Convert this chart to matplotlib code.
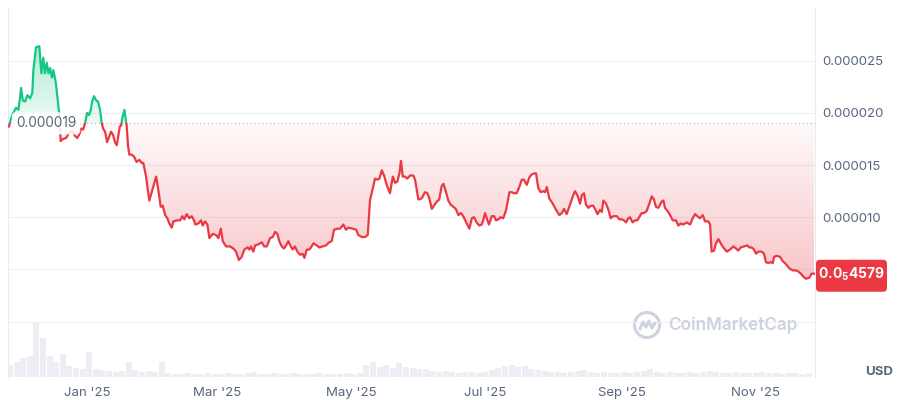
import numpy as np
import matplotlib
matplotlib.use("Agg")
import matplotlib.pyplot as plt
import matplotlib.transforms as mtransforms
from matplotlib.path import Path
from matplotlib.patches import Rectangle, FancyBboxPatch, Circle
from matplotlib.lines import Line2D
import pandas as pd

# ---------------- data ----------------
base_date = pd.Timestamp("2025-01-01")
# days relative to 2025-01-01
day = [-35.5, -34.5, -33.5, -32.3, -31.2, -30.5, -30.0, -29.2, -28.2, -27.1, -25.9, -24.9, -24.4, -23.2,
       -21.7, -20.8, -19.9, -19.2, -18.3, -17.6, -16.8, -16.0, -15.3, -14.2, -13.5, -12.7, -12.0, -10.9,
       -9.5, -8.2, -6.8, -5.5, -4.5, -3.6, -2.7, -1.8, -0.9, 0.0, 0.9, 1.7, 2.3, 3.2, 4.1, 5.0, 5.9, 6.7,
       7.3, 8.2, 9.1, 10.0, 10.9, 11.8, 12.7, 13.5, 14.1, 14.9, 15.5, 16.0, 17.0, 17.6, 18.0, 18.6, 19.2,
       20.3, 21.4, 22.5, 23.8, 24.9, 25.6, 26.8, 28.3, 29.4, 31.4, 32.4, 33.5, 34.4, 35.5, 36.5, 37.4,
       38.5, 39.2, 40.8, 42.3, 43.3, 44.2, 45.3, 46.5, 47.6, 48.6, 49.2, 50.6, 51.8, 52.6, 53.6, 54.7,
       55.6, 57.1, 58.6, 59.7, 60.8, 61.7, 63.2, 65.0, 66.5, 67.7, 69.0, 70.3, 71.5, 72.9, 73.8, 74.5,
       75.6, 76.4, 77.9, 79.4, 80.5, 81.7, 83.2, 84.4, 85.5, 86.5, 87.4, 88.5, 89.5, 90.5, 91.5, 92.6,
       93.5, 94.5, 95.6, 96.8, 98.0, 98.8, 99.9, 101.0, 101.8, 102.9, 104.4, 105.6, 107.1, 108.6, 110.1,
       111.2, 112.3, 113.8, 115.0, 116.5, 117.7, 118.8, 120.8, 122.3, 123.3, 124.9, 126.4, 127.6, 128.6,
       129.9, 130.9, 132.0, 132.9, 134.0, 135.0, 136.2, 137.7, 139.0, 140.0, 141.0, 142.0, 142.7, 143.5,
       144.5, 145.6, 146.8, 148.3, 149.1, 150.6, 152.1, 153.6, 154.7, 155.6, 156.7, 157.7, 159.0, 160.1,
       161.2, 162.0, 163.2, 164.2, 165.3, 166.5, 167.6, 168.8, 169.9, 171.0, 172.6, 173.8, 174.9, 175.9,
       177.1, 178.3, 179.4, 180.1, 180.9, 182.0, 182.7, 184.0, 185.0, 185.9, 187.0, 188.0, 189.2, 190.5,
       192.0, 193.0, 194.1, 195.3, 196.5, 197.6, 198.6, 199.9, 201.0, 202.1, 203.2, 204.1, 205.1, 206.2,
       207.4, 208.2, 209.0, 210.1, 211.7, 213.2, 214.7, 215.8, 216.8, 218.0, 219.2, 220.8, 221.8, 222.9,
       224.1, 224.9, 225.9, 226.8, 227.9, 229.0, 230.1, 230.9, 232.0, 233.2, 234.0, 234.7, 235.9, 237.0,
       238.0, 239.2, 240.8, 242.0, 243.0, 244.1, 245.0, 246.0, 246.8, 248.0, 249.1, 250.1, 251.0, 252.1,
       253.2, 254.4, 255.6, 256.7, 257.7, 258.6, 259.7, 261.2, 262.0, 262.7, 264.2, 265.3, 266.2, 267.7,
       268.8, 269.9, 271.0, 272.6, 274.1, 275.3, 276.4, 277.4, 278.6, 279.9, 280.9, 282.4, 283.2, 283.9,
       285.0, 285.9, 287.0, 288.0, 289.2, 290.8, 292.3, 293.8, 295.0, 296.0, 297.1, 298.6, 300.1, 301.0,
       302.1, 303.2, 304.1, 305.1, 306.7, 307.7, 308.6, 309.7, 310.8, 311.7, 312.3, 313.5, 315.0, 316.2,
       317.7, 319.2, 320.8, 322.3, 323.3, 324.4, 325.6, 326.8, 328.3, 329.4, 330.5]
# price in units of 1e-6 USD
price_micro = [18.7, 19.5, 20.0, 20.5, 20.3, 21.4, 22.4, 21.2, 21.1, 21.7, 21.4, 21.9, 24.1, 26.3,
               26.4, 23.8, 25.3, 23.8, 24.8, 23.8, 24.3, 23.4, 24.1, 22.9, 21.5, 20.0, 17.3, 17.5,
               17.6, 18.1, 18.3, 17.8, 17.6, 17.9, 18.5, 18.4, 19.0, 20.0, 19.8, 20.3, 21.1, 21.6, 21.2, 21.1, 20.3, 19.0,
               18.5, 18.2, 17.2, 17.7, 18.2, 17.9, 17.2, 16.9, 17.7, 18.7, 18.8, 19.5, 20.3, 19.3, 18.8, 16.9, 16.0,
               16.0, 15.8, 15.3, 15.5, 15.2, 15.2, 13.9, 11.6, 12.4, 13.9, 12.6, 11.0, 11.1, 10.2, 9.9, 9.4,
               9.0, 9.6, 9.7, 9.7, 10.1, 9.8, 10.3, 9.9, 10.1, 9.7, 9.3, 9.4, 9.7, 9.2, 9.6, 9.3,
               8.0, 8.4, 8.3, 8.0, 8.9, 7.7, 7.2, 7.2, 7.0, 6.7, 5.9, 6.2, 6.9, 7.1, 6.9, 7.2,
               6.7, 7.3, 7.4, 7.6, 7.2, 7.2, 8.0, 8.1, 8.6, 8.4, 7.7, 7.2, 7.0, 7.3, 7.7, 7.2,
               6.9, 7.2, 6.7, 6.4, 6.5, 6.1, 6.9, 6.9, 7.1, 7.5, 7.3, 7.1, 7.2, 7.3, 7.6,
               7.7, 8.8, 8.9, 8.9, 9.3, 8.8, 9.0, 8.9, 8.8, 8.3, 8.1, 8.1, 8.3, 11.6,
               12.8, 13.7, 13.6, 13.7, 14.5, 14.0, 13.1, 12.3, 13.9, 13.3, 13.4, 14.2, 15.4, 13.9,
               13.9, 13.7, 14.0, 14.0, 13.6, 11.7, 11.8, 12.4, 12.3, 11.8, 10.8, 11.1, 11.5, 11.7,
               13.0, 13.2, 12.4, 11.6, 11.2, 11.0, 10.8, 10.2, 10.4, 10.1, 9.4, 8.9, 9.9, 10.0,
               9.5, 9.2, 9.3, 9.7, 10.4, 9.7, 9.3, 10.1, 10.1, 9.7, 9.8, 10.0, 9.9, 10.7,
               12.4, 12.4, 12.3, 12.3, 12.9, 13.6, 13.6, 13.1, 13.8, 14.1, 14.2, 14.2, 12.8, 12.4,
               12.5, 12.4, 12.9, 11.8, 11.3, 10.7, 10.2, 10.4, 10.8, 10.3, 11.0, 12.0, 12.5, 12.1,
               11.3, 12.1, 12.3, 11.2, 10.9, 11.1, 11.1, 10.8, 10.3, 10.7, 10.5, 11.6, 11.3, 10.7,
               9.9, 10.1, 10.1, 9.8, 9.8, 9.7, 9.5, 9.9, 10.0, 9.5, 9.7, 9.7, 10.0, 10.4,
               10.4, 10.6, 11.3, 12.0, 11.7, 11.0, 10.9, 11.5, 11.6, 10.9, 10.5, 10.1, 9.7, 9.7,
               9.2, 9.4, 9.3, 9.5, 9.3, 9.9, 10.3, 10.1, 9.9, 10.2, 9.6, 9.6, 9.3, 6.7,
               6.8, 7.5, 7.9, 7.5, 7.1, 6.7, 6.9, 7.2, 7.0, 6.8, 7.1, 7.2, 7.3, 7.1,
               7.1, 6.9, 6.5, 6.7, 6.7, 6.5, 5.7, 5.6, 5.7, 5.6, 6.2, 6.3, 6.2, 5.8,
               5.5, 5.1, 4.9, 4.9, 4.8, 4.6, 4.3, 4.1, 4.2, 4.6, 4.579]
baseline_price = 0.000019
baseline_label = "0.000019"
last_price_label = r"$\mathbf{0.0_{5}4579}$"

# volume (relative units), 3-day buckets starting at day -35
vol_first_day = -35
vol_step_days = 3
volume = [12, 14, 18, 20, 52, 38, 20, 14, 22, 11, 9, 8, 24, 8, 7, 6, 5, 6, 14, 7, 5, 6, 5, 14, 4,
          3, 3, 4, 3, 3, 4, 3, 3, 4, 3, 3, 4, 5, 3, 3, 4, 3, 3, 4, 3, 3, 3, 4, 3, 3, 3, 4, 3, 4,
          12, 14, 10, 12, 9, 13, 10, 9, 8, 8, 6, 5, 6, 5, 4, 5, 5, 4, 5, 7, 9, 11, 12, 10, 11, 8,
          7, 6, 5, 5, 4, 5, 6, 7, 5, 4, 5, 4, 4, 5, 4, 5, 6, 8, 5, 4, 5, 4, 4, 5, 4, 5, 6, 5, 4,
          4, 5, 4, 4, 4, 5, 4, 4, 3, 4, 4, 3, 4]

tick_dates = ["2025-01-01", "2025-03-01", "2025-05-01", "2025-07-01", "2025-09-01", "2025-11-01"]
tick_labels = ["Jan '25", "Mar '25", "May '25", "Jul '25", "Sep '25", "Nov '25"]
ytick_values = [0.000010, 0.000015, 0.000020, 0.000025]
ytick_labels = ["0.000010", "0.000015", "0.000020", "0.000025"]
grid_values = [0.0, 0.000005, 0.000010, 0.000015, 0.000020, 0.000025]

# ---------------- style ----------------
plt.rcParams["font.family"] = ["Inter", "DejaVu Sans"]
plt.rcParams["mathtext.fontset"] = "custom"
plt.rcParams["mathtext.rm"] = "Inter"
plt.rcParams["mathtext.bf"] = "Inter:bold"

RED = "#ea3943"
GREEN = "#16c784"
TXT = "#58667e"
GRID = "#eff2f5"

W, H = 900, 400
fig = plt.figure(figsize=(W / 100, H / 100), dpi=100)
ax_left, ax_right, ax_top, ax_bot = 8.3, 815, 8, 377
rect = [ax_left / W, 1 - ax_bot / H, (ax_right - ax_left) / W, (ax_bot - ax_top) / H]
axv = fig.add_axes(rect, zorder=0)
ax = fig.add_axes(rect, zorder=1)
ax.patch.set_visible(False)

x = np.array(day)
y = np.array(price_micro) * 1e-6
xmin, xmax = -35.8, 330.9
ax.set_xlim(xmin, xmax)
ax.set_ylim(-5.32e-6, 30.06e-6)
axv.set_xlim(xmin, xmax)

# volume bars
vx = vol_first_day + vol_step_days * np.arange(len(volume))
axv.bar(vx, volume, width=vol_step_days * 0.9, color="#eceef3", edgecolor="none", align="center")
axv.set_ylim(0, 355)
axv.axis("off")

# grid
for g in grid_values:
    ax.axhline(g, color=GRID, lw=0.9, zorder=0)

# gradient fills clipped to the area between line and baseline
def gradient_fill(mask_where, color, y_lo, y_hi, a_lo, a_hi):
    fb = ax.fill_between(x, y, baseline_price, where=mask_where, interpolate=True,
                         facecolor="none", edgecolor="none")
    paths = fb.get_paths()
    if not paths:
        return
    cp = Path.make_compound_path(*paths)
    rgb = matplotlib.colors.to_rgb(color)
    n = 256
    img = np.zeros((n, 1, 4))
    img[:, 0, 0:3] = rgb
    img[:, 0, 3] = np.linspace(a_lo, a_hi, n)
    im = ax.imshow(img, extent=[xmin, xmax, y_lo, y_hi], origin="lower",
                   aspect="auto", zorder=1, interpolation="bilinear")
    im.set_clip_path(cp, ax.transData)

gradient_fill(y <= baseline_price, RED, 3.5e-6, baseline_price, 0.30, 0.03)
gradient_fill(y >= baseline_price, GREEN, baseline_price, 26.5e-6, 0.08, 0.34)

# the price line, green above and red below the baseline
lg, = ax.plot(x, y, color=GREEN, lw=1.6, zorder=3, solid_joinstyle="round")
lg.set_clip_path(Rectangle((xmin, baseline_price), xmax - xmin, 1.0, transform=ax.transData))
lr, = ax.plot(x, y, color=RED, lw=1.6, zorder=3, solid_joinstyle="round")
lr.set_clip_path(Rectangle((xmin, -1.0), xmax - xmin, 1.0 + baseline_price, transform=ax.transData))

# baseline dotted line
ax.plot([x[0], xmax], [baseline_price, baseline_price], color="#a6b0c3", lw=0.8,
        ls=(0, (1, 2.5)), zorder=2)
label_tr = ax.transData + mtransforms.ScaledTranslation(7 / 100, 0, fig.dpi_scale_trans)
ax.text(x[0], baseline_price, baseline_label, transform=label_tr,
        va="center", ha="left", fontsize=9.8, color=TXT, zorder=5,
        bbox=dict(boxstyle="round,pad=0.3,rounding_size=0.3", facecolor="white",
                  edgecolor="none", alpha=0.88))

# axes decoration
for s in ["top", "bottom"]:
    ax.spines[s].set_visible(False)
for s in ["left", "right"]:
    ax.spines[s].set_color("#e8ebf0")
    ax.spines[s].set_linewidth(0.8)
ax.yaxis.tick_right()
ax.set_yticks(ytick_values, ytick_labels)
ax.tick_params(axis="y", length=0, pad=5.3, labelsize=9.5, labelcolor=TXT)
tick_days = [(pd.Timestamp(d) - base_date).days for d in tick_dates]
ax.set_xticks(tick_days, tick_labels)
ax.tick_params(axis="x", length=0, pad=7, labelsize=9.5, labelcolor=TXT)

# last price box
ident = mtransforms.IdentityTransform()
x_right_px = ax.transAxes.transform((1, 0))[0]
y_px = ax.transData.transform((0, y[-1]))[1] - 2
box = FancyBboxPatch((x_right_px + 1, y_px - 16), 71, 32,
                     boxstyle="round,pad=0,rounding_size=4", transform=ident,
                     facecolor=RED, edgecolor="none", zorder=10)
fig.add_artist(box)
fig.text(x_right_px + 1 + 35.5, y_px + 1, last_price_label, transform=ident, ha="center",
         va="center", color="white", fontsize=10, zorder=11)

# watermark
WM = "#cdd3de"
cx, cy = 647, H - 325
fig.add_artist(Circle((cx, cy), 12.5, transform=ident, facecolor="none", edgecolor=WM, lw=2.2))
wave = np.array([[-7, -4], [-4, 3], [-1, -2], [2, 4], [5, -3], [8, 2]])
fig.add_artist(Line2D(cx + wave[:, 0], cy + wave[:, 1], transform=ident, color=WM, lw=2.2,
                      solid_joinstyle="round", solid_capstyle="round"))
fig.text(668 / W, 1 - 325.5 / H, "CoinMarketCap", ha="left", va="center", fontsize=12.3,
         color=WM, fontweight="semibold")

fig.text(865 / W, 1 - 372 / H, "USD", ha="left", va="center", fontsize=9.5,
         color=TXT, fontweight="bold")

fig.savefig("out.png", dpi=100)
